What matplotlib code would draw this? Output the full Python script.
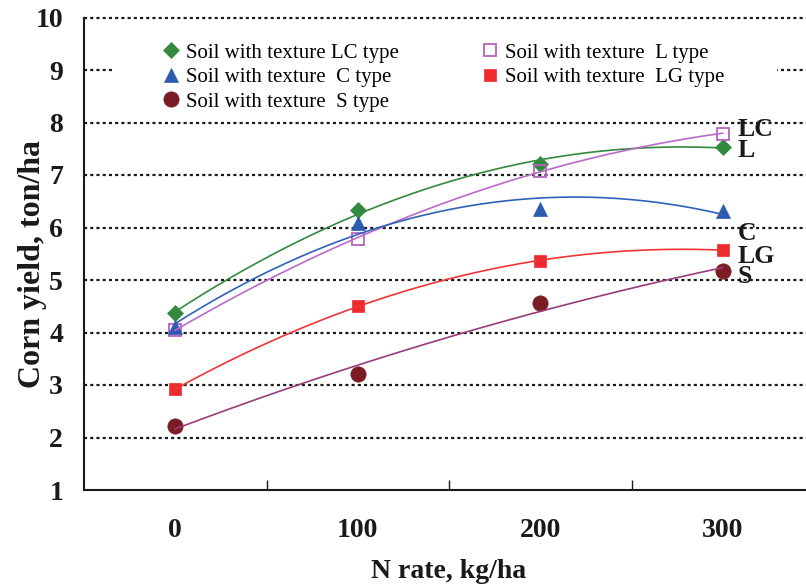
import numpy as np
import matplotlib
matplotlib.use("Agg")
import matplotlib.pyplot as plt
from matplotlib.patches import Rectangle
import matplotlib.transforms as mtransforms

# N rates (category axis) and corn yield, ton/ha, for each soil texture
n_rates = ["0", "100", "200", "300"]
yield_lc = [4.37, 6.33, 7.21, 7.54]
yield_l = [4.05, 5.79, 7.08, 7.79]
yield_c = [4.10, 6.08, 6.35, 6.32]
yield_lg = [2.92, 4.50, 5.37, 5.57]
yield_s = [2.22, 3.21, 4.57, 5.18]

series = [
    # label, values, marker, marker colour, line colour, filled
    ("Soil with texture LC type", yield_lc, "D", "#338a3e", "#338a3e", True),
    ("Soil with texture  L type", yield_l, "s", "#b463bd", "#b86cc5", False),
    ("Soil with texture  C type", yield_c, "^", "#2c5cb2", "#2f62b8", True),
    ("Soil with texture  LG type", yield_lg, "s", "#ee2a2e", "#f03535", True),
    ("Soil with texture  S type", yield_s, "o", "#7a1c24", "#9a3b7a", True),
]
marker_sizes = {"D": 8.2, "s": 8.4, "^": 9.5, "o": 11}

# short labels at the end of each curve
end_labels = ["LC", "L", "C", "LG", "S"]
end_label_y = [7.74, 7.34, 5.76, 5.32, 4.95]

serif = "Liberation Serif"

fig = plt.figure(figsize=(8.06, 5.86), dpi=100)
ax = fig.add_axes([84 / 806, 96 / 586, 730 / 806, 472.5 / 586])

x = np.arange(len(n_rates))
xs = np.linspace(0, len(n_rates) - 1, 200)

handles = {}
for label, vals, mk, mcol, lcol, filled in series:
    h, = ax.plot(x, vals, linestyle="none", marker=mk,
                 markersize=marker_sizes[mk],
                 markerfacecolor=mcol if filled else "none",
                 markeredgecolor=mcol, markeredgewidth=1.3 if not filled else 0.5,
                 zorder=2.5, label=label)
    handles[label] = h
    # quadratic trendline through the points
    coef = np.polyfit(x, vals, 2)
    ax.plot(xs, np.polyval(coef, xs), color=lcol, linewidth=1.2, zorder=3)

for txt, yv in zip(end_labels, end_label_y):
    ax.text(3.08, yv, txt, fontsize=18.5, fontweight="bold", family=serif,
            va="baseline", ha="left", color="#1a1a1a", zorder=4)

ax.set_xlim(-0.5, 3.5)
ax.set_ylim(1, 10)

# dotted horizontal gridlines
for yv in range(2, 11):
    ax.axhline(yv, color="#1a1a1a", linewidth=1.6, linestyle=(0, (1.4, 1.4)),
               zorder=1, clip_on=False)

# white box behind the legend
trans = mtransforms.blended_transform_factory(ax.transAxes, ax.transData)
ax.add_patch(Rectangle((0.042, 8.2), 0.907, 1.6, transform=trans,
                       facecolor="white", edgecolor="none", zorder=1.5))

order = ["Soil with texture LC type", "Soil with texture  C type",
         "Soil with texture  S type", "Soil with texture  L type",
         "Soil with texture  LG type"]
leg = ax.legend([handles[k] for k in order], order, ncol=2, frameon=False,
                loc="upper left", bbox_to_anchor=(0.108, 0.946),
                borderpad=0, borderaxespad=0, handlelength=0.8,
                handletextpad=0.3, columnspacing=4.0, labelspacing=0.24,
                prop={"family": serif, "size": 15})
leg.set_zorder(5)

# spines
for side in ["top", "right"]:
    ax.spines[side].set_visible(False)
for side in ["left", "bottom"]:
    ax.spines[side].set_linewidth(1.5)
    ax.spines[side].set_color("#1a1a1a")

ax.set_yticks(range(1, 11))
ax.set_xticks(x)
ax.set_xticklabels(n_rates)
ax.set_xticks([0.5, 1.5, 2.5, 3.5], minor=True)
ax.tick_params(axis="x", which="major", length=0, pad=20)
ax.tick_params(axis="x", which="minor", direction="in", length=7, width=1,
               color="#1a1a1a")
ax.tick_params(axis="y", length=0, pad=15)
for lab in ax.get_xticklabels() + ax.get_yticklabels():
    lab.set_family(serif)
    lab.set_fontweight("bold")
    lab.set_fontsize(20)
    lab.set_color("#1a1a1a")

ax.set_xlabel("N rate, kg/ha", family=serif, fontweight="bold", fontsize=20,
              color="#1a1a1a")
ax.set_ylabel("Corn yield, ton/ha", family=serif, fontweight="bold",
              fontsize=23, color="#1a1a1a")
ax.xaxis.set_label_coords(0.5, -0.172)
ax.xaxis.label.set_va("center")
ax.yaxis.set_label_coords(-0.071, 0.478)
ax.yaxis.label.set_va("center")

fig.savefig("out.png", dpi=100)
